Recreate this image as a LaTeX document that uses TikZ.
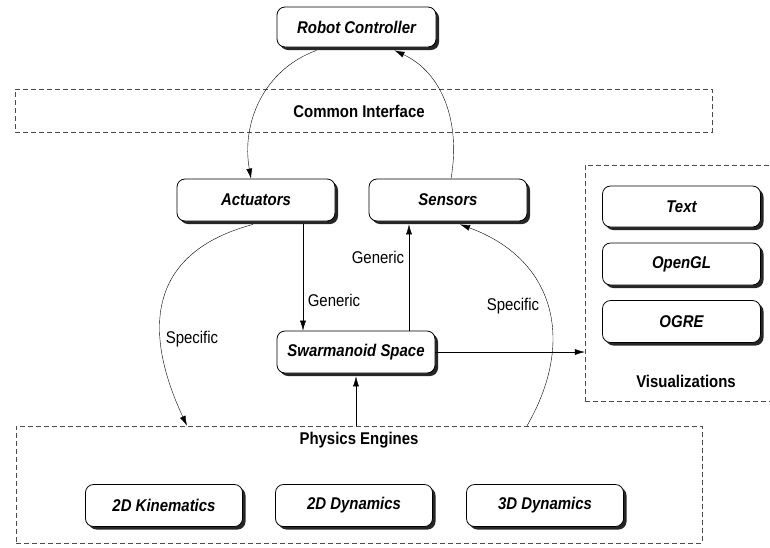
\documentclass[tikz,border=0pt]{standalone}
\usepackage{fontspec}
\setmainfont{Liberation Sans}[FakeStretch=0.88]
\usetikzlibrary{shadows,arrows.meta}

\begin{document}
\begin{tikzpicture}[x=1pt, y=1pt, font=\fontsize{17}{20}\selectfont,
	module/.style={rectangle, rounded corners=8pt, draw=black, thick, fill=white, minimum width=158pt, minimum height=42pt, font=\fontsize{17}{20}\selectfont\bfseries\itshape, drop shadow={shadow xshift=3pt, shadow yshift=-3pt, opacity=1, fill=black!85}},
	group/.style={rectangle, draw=black!70, dash pattern=on 5pt off 3pt, inner sep=0pt},
	grouplabel/.style={font=\fontsize{17}{20}\selectfont\bfseries},
	flow/.style={-{Latex[length=10pt,width=6pt]}}]
			\useasboundingbox (0,0) rectangle (770,-547);
			
			% dashed groups
			\node[group, minimum width=697pt, minimum height=43pt] (common) at (363.5,-110.5){};
			\node[group, minimum width=686pt, minimum height=117pt] (phys) at (359,-484.5){};
			\node[group, minimum width=186pt, minimum height=236pt] (vis) at (678,-283){};
			\node[grouplabel] (commontext) at (359,-111){Common Interface};
			\node[grouplabel] (phystext) at (359,-440){Physics Engines};
			\node[grouplabel] (vistext) at (686,-381){Visualizations};
			
			\node[module, minimum width=159pt, minimum height=40pt] (rc) at (356.5,-27){Robot Controller};
			\node[module] (act) at (256,-200){Actuators};
			\node[module] (sens) at (448,-200){Sensors};
			\node[module] (swarm) at (356,-352){Swarmanoid Space};
			
			\node[module, minimum height=41pt] (text) at (681.5,-206.5){Text};
			\node[module] (opengl) at (681.5,-264){OpenGL};
			\node[module] (ogre) at (681.5,-321.5){OGRE};
			
			\node[module, minimum width=157pt] (kin) at (164,-505.5){2D Kinematics};
			\node[module, minimum width=157pt] (dyn2) at (354,-505.5){2D Dynamics};
			\node[module, minimum width=157pt] (dyn3) at (545,-505.5){3D Dynamics};
			
			\node (gen1) at (334,-300){Generic};
			\node (gen2) at (378,-257){Generic};
			\node (spec1) at (192,-339){Specific};
			\node (spec2) at (513,-306){Specific};
			
			\draw[flow] ([xshift=-40pt,yshift=-3pt]rc.south) to[out=200,in=100] ([xshift=-5pt]act.north);
			\draw[flow] ([xshift=3pt]sens.north) to[out=80,in=-25] ([xshift=38pt,yshift=-3pt]rc.south);
			\draw[flow] ([xshift=-3pt,yshift=-3pt]act.south) to[out=195,in=115,looseness=1.3] ([xshift=-172pt]phys.north);
			\draw[flow] ([xshift=168pt]phys.north) to[out=60,in=-20,looseness=1.2] ([xshift=12pt,yshift=-3pt]sens.south);
			\draw[flow] ([xshift=47pt,yshift=-3pt]act.south) -- ([xshift=-53pt]swarm.north);
			\draw[flow] ([xshift=53pt]swarm.north) -- ([xshift=-39pt,yshift=-3pt]sens.south);
			\draw[flow] (phys.north -| swarm.south) -- ([yshift=-3pt]swarm.south);
			\draw[flow] (swarm.east) -- (swarm.east -| vis.west);
\end{tikzpicture}
\end{document}
